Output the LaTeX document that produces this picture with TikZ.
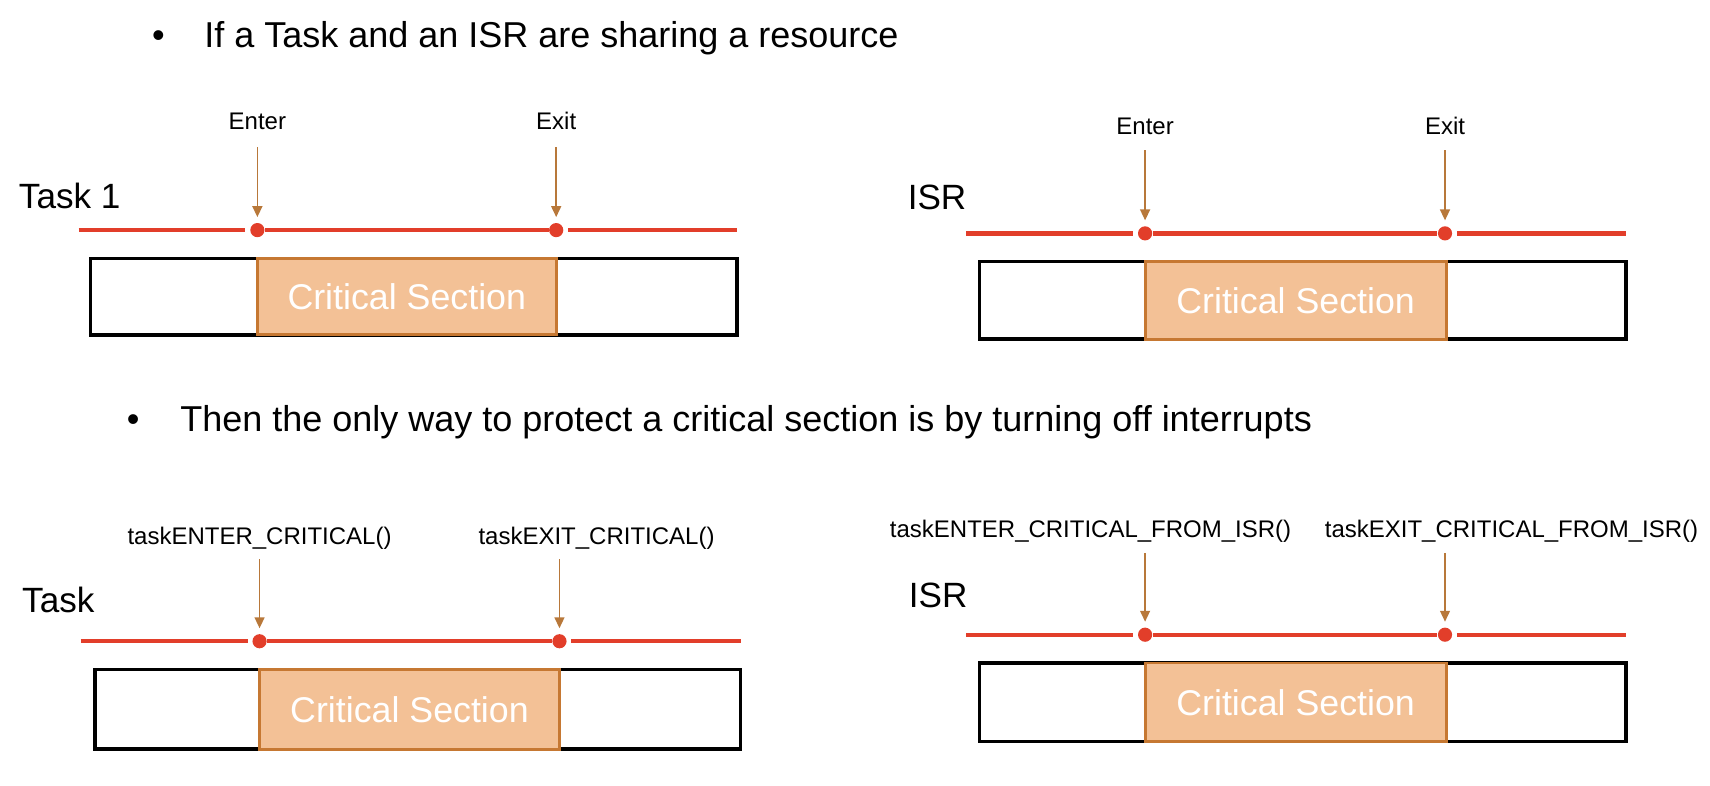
\documentclass[tikz,border=0pt]{standalone}
\usepackage{fontspec}
\setmainfont{Liberation Sans}
\usetikzlibrary{arrows.meta}
\definecolor{redline}{RGB}{226,62,42}
\definecolor{arrowc}{RGB}{184,120,58}
\definecolor{csfill}{RGB}{243,193,150}
\definecolor{csedge}{RGB}{198,120,50}
\begin{document}
\begin{tikzpicture}[x=0.5pt,y=-0.5pt,
  bigtext/.style={font=\fontsize{16.5}{19}\selectfont, inner sep=0pt, anchor=base west},
  lbl/.style={font=\fontsize{16.1}{18}\selectfont, inner sep=0pt, anchor=base west},
  small/.style={font=\fontsize{11}{13}\selectfont, inner sep=0pt, anchor=base},
  dot/.style={circle, fill=redline, inner sep=0pt, minimum size=6.5pt},
  tl/.style={draw=redline, line width=2pt},
  ptr/.style={draw=arrowc, line width=0.8pt, shorten >=2.5pt, -{Triangle[length=5pt,width=4.5pt]}},
  outer/.style={draw=black, line width=1.6pt, minimum height=35pt, inner sep=0pt},
  cs/.style={draw=csedge, fill=csfill, line width=1.3pt, text=white, inner sep=0pt, minimum height=35pt,
     font=\fontsize{16.4}{19}\selectfont}
]
\useasboundingbox (0,0) rectangle (1568,720.7);

% bullets
\node[bigtext] (b1) at (139,43.5) {\textbullet};
\node[bigtext] (h1) at (187,43.5) {If a Task and an ISR are sharing a resource};
\node[bigtext] (b2) at (116,395.5) {\textbullet};
\node[bigtext] (h2) at (165,395.5) {Then the only way to protect a critical section is by turning off interrupts};

% ---------- panel top-left ----------
\node[lbl] (tla) at (17,191) {Task 1};
\node[outer, minimum width=296.5pt] (tlo) at (379.5,272) {};
\node[cs, minimum width=137pt] (tlcs) at (373,272) {Critical Section};
\node[dot] (tld1) at (236,211) {};
\node[dot] (tld2) at (510,211) {};
\coordinate (tll) at (72,211);
\coordinate (tlr) at (676,211);
\draw[tl] (tll) -- ([xshift=-2pt]tld1.west);
\draw[tl] (tld1) -- (tld2);
\draw[tl] ([xshift=2pt]tld2.east) -- (tlr);
\node[small] (tlen) at (236,119) {Enter};
\node[small] (tlex) at (510,119) {Exit};
\coordinate (tlp1) at (236,135);
\coordinate (tlp2) at (510,135);
\draw[ptr] (tlp1) -- (tld1);
\draw[ptr] (tlp2) -- (tld2);

% ---------- panel top-right ----------
\node[lbl] (tra) at (832,192) {ISR};
\node[outer, minimum width=296.5pt, minimum height=35.5pt] (tro) at (1194.5,275.5) {};
\node[cs, minimum width=138pt, minimum height=35.5pt] (trcs) at (1188,275.5) {Critical Section};
\node[dot] (trd1) at (1050,214) {};
\node[dot] (trd2) at (1325,214) {};
\coordinate (trl) at (886,214);
\coordinate (trr) at (1491,214);
\draw[tl] (trl) -- ([xshift=-2pt]trd1.west);
\draw[tl] (trd1) -- (trd2);
\draw[tl] ([xshift=2pt]trd2.east) -- (trr);
\node[small] (tren) at (1050,123) {Enter};
\node[small] (trex) at (1325,123) {Exit};
\coordinate (trp1) at (1050,138);
\coordinate (trp2) at (1325,138);
\draw[ptr] (trp1) -- (trd1);
\draw[ptr] (trp2) -- (trd2);

% ---------- panel bottom-left ----------
\node[lbl] (bla) at (20,562) {Task};
\node[outer, minimum width=296pt, minimum height=36.5pt] (blo) at (383,650.5) {};
\node[cs, minimum width=137.5pt, minimum height=36.5pt] (blcs) at (375.5,650.5) {Critical Section};
\node[dot] (bld1) at (238,588) {};
\node[dot] (bld2) at (513,588) {};
\coordinate (bll) at (74,588);
\coordinate (blr) at (679,588);
\draw[tl] (bll) -- ([xshift=-2pt]bld1.west);
\draw[tl] (bld1) -- (bld2);
\draw[tl] ([xshift=2pt]bld2.east) -- (blr);
\node[small] (blen) at (238,499) {taskENTER\_CRITICAL()};
\node[small] (blex) at (547,499) {taskEXIT\_CRITICAL()};
\coordinate (blp1) at (238,513);
\coordinate (blp2) at (513,513);
\draw[ptr] (blp1) -- (bld1);
\draw[ptr] (blp2) -- (bld2);

% ---------- panel bottom-right ----------
\node[lbl] (bra) at (833,557) {ISR};
\node[outer, minimum width=296.5pt, minimum height=36pt] (bro) at (1194.5,644) {};
\node[cs, minimum width=138pt, minimum height=36pt] (brcs) at (1188,644) {Critical Section};
\node[dot] (brd1) at (1050,582) {};
\node[dot] (brd2) at (1325,582) {};
\coordinate (brl) at (886,582);
\coordinate (brr) at (1491,582);
\draw[tl] (brl) -- ([xshift=-2pt]brd1.west);
\draw[tl] (brd1) -- (brd2);
\draw[tl] ([xshift=2pt]brd2.east) -- (brr);
\node[small] (bren) at (1000,493) {taskENTER\_CRITICAL\_FROM\_ISR()};
\node[small] (brex) at (1386,493) {taskEXIT\_CRITICAL\_FROM\_ISR()};
\coordinate (brp1) at (1050,507);
\coordinate (brp2) at (1325,507);
\draw[ptr] (brp1) -- (brd1);
\draw[ptr] (brp2) -- (brd2);
\end{tikzpicture}
\end{document}
